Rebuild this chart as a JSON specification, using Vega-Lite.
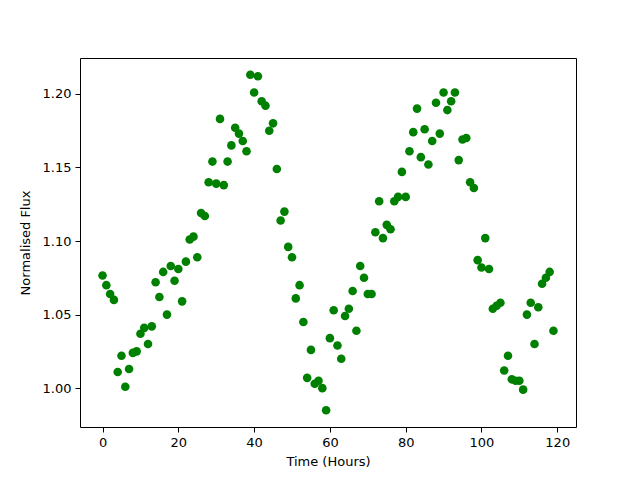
{
  "$schema": "https://vega.github.io/schema/vega-lite/v6.json",
  "width": 496,
  "height": 369,
  "autosize": {"type": "none"},
  "padding": {"left": 80, "top": 58, "right": 64, "bottom": 53},
  "background": "white",
  "config": {
    "view": {"stroke": "black", "strokeWidth": 1},
    "font": "DejaVu Sans",
    "axis": {
      "grid": false,
      "domain": false,
      "tickColor": "black",
      "tickSize": 5,
      "tickWidth": 1,
      "labelColor": "black",
      "labelFont": "DejaVu Sans",
      "labelFontSize": 13,
      "labelPadding": 4,
      "titleFont": "DejaVu Sans",
      "titleFontSize": 13,
      "titleFontWeight": "normal",
      "titleColor": "black"
    }
  },
  "data": {
    "values": [
      {"t": 0, "f": 1.0766}, {"t": 1, "f": 1.070}, {"t": 2, "f": 1.064}, {"t": 3, "f": 1.060},
      {"t": 4, "f": 1.011}, {"t": 5, "f": 1.022}, {"t": 6, "f": 1.001}, {"t": 7, "f": 1.013},
      {"t": 8, "f": 1.024}, {"t": 9, "f": 1.025}, {"t": 10, "f": 1.037}, {"t": 11, "f": 1.041},
      {"t": 12, "f": 1.030}, {"t": 13, "f": 1.042}, {"t": 14, "f": 1.072}, {"t": 15, "f": 1.062},
      {"t": 16, "f": 1.079}, {"t": 17, "f": 1.050}, {"t": 18, "f": 1.083}, {"t": 19, "f": 1.073},
      {"t": 20, "f": 1.081}, {"t": 21, "f": 1.059}, {"t": 22, "f": 1.086}, {"t": 23, "f": 1.101},
      {"t": 24, "f": 1.103}, {"t": 25, "f": 1.089}, {"t": 26, "f": 1.119}, {"t": 27, "f": 1.117},
      {"t": 28, "f": 1.140}, {"t": 29, "f": 1.154}, {"t": 30, "f": 1.139}, {"t": 31, "f": 1.183},
      {"t": 32, "f": 1.138}, {"t": 33, "f": 1.154}, {"t": 34, "f": 1.165}, {"t": 35, "f": 1.177},
      {"t": 36, "f": 1.173}, {"t": 37, "f": 1.168}, {"t": 38, "f": 1.161}, {"t": 39, "f": 1.213},
      {"t": 40, "f": 1.201}, {"t": 41, "f": 1.212}, {"t": 42, "f": 1.195}, {"t": 43, "f": 1.192},
      {"t": 44, "f": 1.175}, {"t": 45, "f": 1.180}, {"t": 46, "f": 1.149}, {"t": 47, "f": 1.114},
      {"t": 48, "f": 1.120}, {"t": 49, "f": 1.096}, {"t": 50, "f": 1.089}, {"t": 51, "f": 1.061},
      {"t": 52, "f": 1.070}, {"t": 53, "f": 1.045}, {"t": 54, "f": 1.007}, {"t": 55, "f": 1.026},
      {"t": 56, "f": 1.003}, {"t": 57, "f": 1.005}, {"t": 58, "f": 1.000}, {"t": 59, "f": 0.985},
      {"t": 60, "f": 1.034}, {"t": 61, "f": 1.053}, {"t": 62, "f": 1.029}, {"t": 63, "f": 1.020},
      {"t": 64, "f": 1.049}, {"t": 65, "f": 1.054}, {"t": 66, "f": 1.066}, {"t": 67, "f": 1.039},
      {"t": 68, "f": 1.083}, {"t": 69, "f": 1.075}, {"t": 70, "f": 1.064}, {"t": 71, "f": 1.064},
      {"t": 72, "f": 1.106}, {"t": 73, "f": 1.127}, {"t": 74, "f": 1.102}, {"t": 75, "f": 1.111},
      {"t": 76, "f": 1.108}, {"t": 77, "f": 1.127}, {"t": 78, "f": 1.130}, {"t": 79, "f": 1.147},
      {"t": 80, "f": 1.130}, {"t": 81, "f": 1.161}, {"t": 82, "f": 1.174}, {"t": 83, "f": 1.190},
      {"t": 84, "f": 1.157}, {"t": 85, "f": 1.176}, {"t": 86, "f": 1.152}, {"t": 87, "f": 1.168},
      {"t": 88, "f": 1.194}, {"t": 89, "f": 1.173}, {"t": 90, "f": 1.201}, {"t": 91, "f": 1.189},
      {"t": 92, "f": 1.195}, {"t": 93, "f": 1.201}, {"t": 94, "f": 1.155}, {"t": 95, "f": 1.169},
      {"t": 96, "f": 1.170}, {"t": 97, "f": 1.140}, {"t": 98, "f": 1.136}, {"t": 99, "f": 1.087},
      {"t": 100, "f": 1.082}, {"t": 101, "f": 1.102}, {"t": 102, "f": 1.081}, {"t": 103, "f": 1.054},
      {"t": 104, "f": 1.056}, {"t": 105, "f": 1.058}, {"t": 106, "f": 1.012}, {"t": 107, "f": 1.022},
      {"t": 108, "f": 1.006}, {"t": 109, "f": 1.005}, {"t": 110, "f": 1.005}, {"t": 111, "f": 0.999},
      {"t": 112, "f": 1.050}, {"t": 113, "f": 1.058}, {"t": 114, "f": 1.030}, {"t": 115, "f": 1.055},
      {"t": 116, "f": 1.071}, {"t": 117, "f": 1.075}, {"t": 118, "f": 1.079}, {"t": 119, "f": 1.039}
    ]
  },
  "mark": {"type": "circle", "color": "#008000", "opacity": 1, "size": 74},
  "encoding": {
    "x": {
      "field": "t",
      "type": "quantitative",
      "scale": {"domain": [-5.95, 124.95], "nice": false, "zero": false},
      "axis": {"values": [0, 20, 40, 60, 80, 100, 120], "title": "Time (Hours)", "titlePadding": 6, "format": "d"}
    },
    "y": {
      "field": "f",
      "type": "quantitative",
      "scale": {"domain": [0.9736, 1.2244], "nice": false, "zero": false},
      "axis": {"values": [1.0, 1.05, 1.1, 1.15, 1.2], "format": ".2f", "title": "Normalised Flux", "titlePadding": 10}
    }
  }
}
